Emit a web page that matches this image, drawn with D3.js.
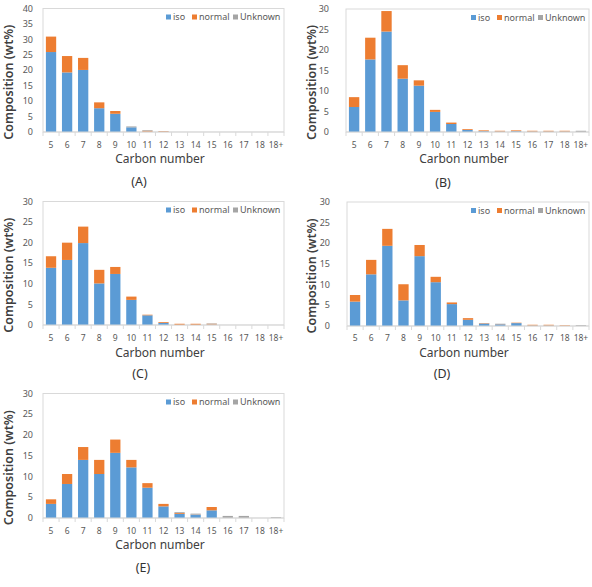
<!DOCTYPE html>
<html>
<head>
<meta charset="utf-8">
<script src="https://cdn.jsdelivr.net/npm/d3@7"></script>
<style>
  html, body { margin: 0; padding: 0; background: #fff; }
  svg { display: block; }
  text { font-family: "Noto Sans", "Open Sans", sans-serif; }
</style>
</head>
<body>
<svg id="chart" width="592" height="587"></svg>
<script>
const categories = ["5","6","7","8","9","10","11","12","13","14","15","16","17","18","18+"];
const seriesNames = ["iso", "normal", "Unknown"];
const seriesColors = ["#5B9BD5", "#ED7D31", "#A5A5A5"];

const isoA     = [25.9,19.3,20.1,7.7,5.9,1.5,0.1,0.1,0,0,0,0,0,0,0];
const normalA  = [5.0,5.3,3.9,1.9,0.9,0,0.3,0.2,0,0,0,0,0,0,0];
const unknownA = [0,0,0,0,0,0.3,0.2,0,0,0,0,0,0,0,0];

const isoB     = [6.1,17.7,24.5,13.0,11.3,4.9,1.95,0.5,0.2,0.1,0.2,0.1,0.1,0.1,0];
const normalB  = [2.4,5.3,5.0,3.3,1.3,0.5,0.35,0.2,0.2,0.2,0.2,0.2,0.2,0.2,0];
const unknownB = [0,0,0,0,0,0,0,0,0,0,0,0,0,0,0.3];

const isoC     = [13.9,15.8,19.9,10.1,12.4,6.1,2.35,0.5,0,0,0.1,0,0,0,0];
const normalC  = [2.8,4.2,4.0,3.3,1.7,0.8,0.15,0.2,0.3,0.3,0.2,0,0,0,0];
const unknownC = [0,0,0,0,0,0,0,0,0,0,0.1,0,0,0,0];

const isoD     = [5.9,12.5,19.4,6.2,16.9,10.6,5.3,1.5,0.6,0.4,0.7,0.1,0.1,0,0];
const normalD  = [1.6,3.5,4.1,3.9,2.7,1.3,0.4,0.4,0.1,0.05,0.1,0.2,0.2,0.15,0];
const unknownD = [0,0,0,0,0,0,0,0,0,0.1,0,0,0,0,0.2];

const isoE     = [3.4,8.2,14.0,10.6,15.7,12.2,7.3,2.8,1.0,0.8,1.85,0,0,0,0];
const normalE  = [1.1,2.4,3.1,3.4,3.2,1.8,1.1,0.6,0.2,0.05,0.8,0,0,0,0];
const unknownE = [0,0,0,0,0,0,0,0,0.2,0.2,0,0.5,0.5,0,0.2];

const yTicksA = [0,5,10,15,20,25,30,35,40];
const yTicksOther = [0,5,10,15,20,25,30];

const xTitle = "Carbon number";
const yTitle = "Composition (wt%)";

const panels = [
  { label: "(A)", iso: isoA, normal: normalA, unknown: unknownA, yMax: 40, yTicks: yTicksA,
    left: 43, right: 284, top: 8.5, bottom: 132, tickLabelRight: 33, yTitleX: 9, xTickY: 145, xTitleY: 158.5, xTitleX: 160, capX: 139, capY: 182 },
  { label: "(B)", iso: isoB, normal: normalB, unknown: unknownB, yMax: 30, yTicks: yTicksOther,
    left: 346, right: 589, top: 9, bottom: 132, tickLabelRight: 329, yTitleX: 312, xTickY: 145, xTitleY: 158.5, xTitleX: 464, capX: 443, capY: 183 },
  { label: "(C)", iso: isoC, normal: normalC, unknown: unknownC, yMax: 30, yTicks: yTicksOther,
    left: 43, right: 284, top: 201.5, bottom: 325, tickLabelRight: 33, yTitleX: 9, xTickY: 338, xTitleY: 353, xTitleX: 160, capX: 140, capY: 374 },
  { label: "(D)", iso: isoD, normal: normalD, unknown: unknownD, yMax: 30, yTicks: yTicksOther,
    left: 347, right: 589, top: 202, bottom: 326, tickLabelRight: 330, yTitleX: 312, xTickY: 338, xTitleY: 353, xTitleX: 464, capX: 442, capY: 374 },
  { label: "(E)", iso: isoE, normal: normalE, unknown: unknownE, yMax: 30, yTicks: yTicksOther,
    left: 43, right: 284, top: 393.5, bottom: 518, tickLabelRight: 33, yTitleX: 9, xTickY: 531, xTitleY: 545, xTitleX: 160, capX: 143, capY: 568 }
];

const svg = d3.select("#chart");
const tickFont = "'Liberation Sans', Arial, sans-serif";

panels.forEach(p => {
  const g = svg.append("g");
  const x = d3.scaleBand().domain(categories).range([p.left, p.right]).paddingInner(0.36).paddingOuter(0.18);
  const xb = d3.scaleBand().domain(categories).range([p.left, p.right]);
  const y = d3.scaleLinear().domain([0, p.yMax]).range([p.bottom, p.top]);

  // plot border
  g.append("rect").attr("x", p.left).attr("y", p.top)
    .attr("width", p.right - p.left).attr("height", p.bottom - p.top)
    .attr("fill", "none").attr("stroke", "#D9D9D9").attr("stroke-width", 1);

  const rows = categories.map((c, i) => ({ cat: c, iso: p.iso[i], normal: p.normal[i], Unknown: p.unknown[i] }));
  const stack = d3.stack().keys(seriesNames)(rows);

  stack.forEach((layer, li) => {
    g.append("g").selectAll("rect").data(layer).join("rect")
      .attr("x", d => x(d.data.cat))
      .attr("width", x.bandwidth())
      .attr("y", d => y(d[1]))
      .attr("height", d => Math.max(0, y(d[0]) - y(d[1])))
      .attr("fill", seriesColors[li]);
  });

  // x axis baseline & ticks
  g.append("line").attr("x1", p.left).attr("x2", p.right).attr("y1", p.bottom).attr("y2", p.bottom)
    .attr("stroke", "#D9D9D9");
  const boundaries = categories.map(c => xb(c)).concat([p.right]);
  g.append("g").selectAll("line").data(boundaries).join("line")
    .attr("x1", d => d).attr("x2", d => d)
    .attr("y1", p.bottom).attr("y2", p.bottom + 4)
    .attr("stroke", "#D9D9D9");

  // x tick labels
  g.append("g").selectAll("text").data(categories).join("text")
    .attr("x", d => xb(d) + xb.bandwidth() / 2)
    .attr("y", p.xTickY)
    .attr("dy", "0.35em")
    .attr("text-anchor", "middle")
    .attr("font-family", tickFont)
    .attr("font-size", "8.5px")
    .attr("fill", "#595959")
    .text(d => d);

  // y tick labels
  g.append("g").selectAll("text").data(p.yTicks).join("text")
    .attr("x", p.tickLabelRight)
    .attr("y", d => y(d))
    .attr("dy", "0.35em")
    .attr("text-anchor", "end")
    .attr("font-family", tickFont)
    .attr("font-size", "9px")
    .attr("fill", "#595959")
    .text(d => d);

  // axis titles
  g.append("text")
    .attr("transform", `translate(${p.yTitleX},${(p.top + p.bottom) / 2 + 12}) rotate(-90)`)
    .attr("text-anchor", "middle")
    .attr("dy", "0.35em")
    .attr("font-size", "12.5px")
    .attr("font-weight", "600")
    .attr("fill", "#404040")
    .text(yTitle);

  g.append("text")
    .attr("x", p.xTitleX).attr("y", p.xTitleY)
    .attr("dy", "0.35em")
    .attr("text-anchor", "middle")
    .attr("font-size", "12px")
    .attr("fill", "#404040")
    .text(xTitle);

  // legend
  const legendY = p.top + 8.5;
  const legOffsets = [ -118, -92, -51 ];
  seriesNames.forEach((name, i) => {
    const lx = p.right + legOffsets[i];
    g.append("rect").attr("x", lx).attr("y", legendY - 2.5).attr("width", 5).attr("height", 5)
      .attr("fill", seriesColors[i]);
    g.append("text").attr("x", lx + 7).attr("y", legendY).attr("dy", "0.35em")
      .attr("font-family", tickFont)
      .attr("font-size", "9px").attr("fill", "#595959").text(name);
  });

  // caption
  g.append("text")
    .attr("x", p.capX).attr("y", p.capY)
    .attr("dy", "0.35em")
    .attr("text-anchor", "middle")
    .attr("font-family", "'Liberation Serif', 'DejaVu Serif', serif")
    .attr("font-size", "12.5px")
    .attr("fill", "#333")
    .text(p.label);
});
</script>
</body>
</html>
